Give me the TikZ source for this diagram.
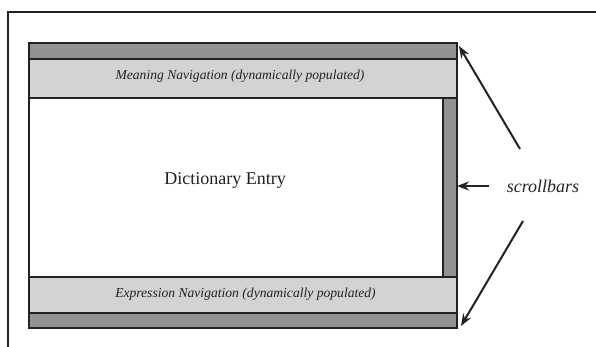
\documentclass[tikz,border=0pt]{standalone}
\usepackage{fontspec}
\setmainfont{Liberation Serif}
\usetikzlibrary{arrows.meta,calc}
\definecolor{darkbar}{HTML}{929292}
\definecolor{lightbar}{HTML}{D3D3D3}
\definecolor{edge}{HTML}{222222}
\tikzset{
  bar/.style={draw=edge,line width=1.3pt,inner sep=0pt,outer sep=0pt,anchor=north west},
  arr/.style={draw=edge,line width=2pt,-{Stealth[length=12pt,width=9pt]}},
  navtext/.style={font=\fontsize{13.6}{16}\selectfont\itshape,text=edge},
}
\begin{document}
\begin{tikzpicture}[x=1pt,y=-1pt]
\useasboundingbox (0,0) rectangle (596,347);
% partial outer frame
\draw[edge,line width=1.5pt] (8,347) -- (8,12) -- (596,12);
% main window
\node[bar,fill=darkbar,minimum width=428pt,minimum height=16pt] (topbar) at (29,43) {};
\node[bar,fill=lightbar,minimum width=428pt,minimum height=39pt] (meaning) at (29,59) {};
\node[bar,fill=white,minimum width=428pt,minimum height=179pt] (entry) at (29,98) {};
\node[bar,fill=darkbar,minimum width=14pt,minimum height=179pt] (vbar) at (443,98) {};
\node[bar,fill=lightbar,minimum width=428pt,minimum height=36pt] (expression) at (29,277) {};
\node[bar,fill=darkbar,minimum width=428pt,minimum height=15pt] (botbar) at (29,313) {};
% texts
\node[navtext] (meaningtext) at (240,76) {Meaning Navigation (dynamically populated)};
\node[navtext] (exprtext) at (245.5,294) {Expression Navigation (dynamically populated)};
\node[font=\fontsize{18}{21}\selectfont,text=edge] (entrytext) at (225,180) {Dictionary Entry};
\node[font=\fontsize{18}{21}\selectfont\itshape,text=edge] (label) at (543,186) {scrollbars};
% arrows
\coordinate (s1) at (520,149);
\coordinate (s3) at (523,221);
\coordinate (t1) at (459,46);
\coordinate (t3) at (461,326);
\draw[arr] (s1) -- (t1);
\draw[arr] (label.west) ++(-14,0) -- (vbar.east |- label.west);
\draw[arr] (s3) -- (t3);
\end{tikzpicture}
\end{document}
